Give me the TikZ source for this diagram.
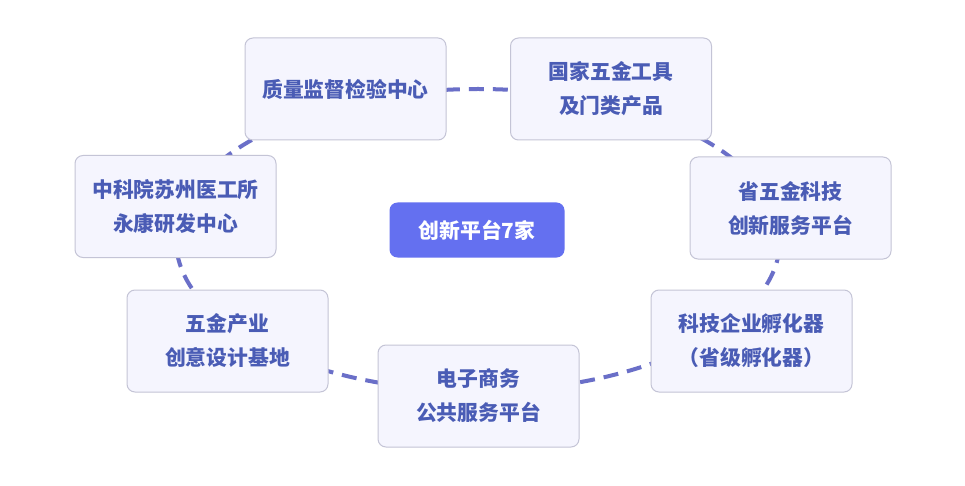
\documentclass[tikz,border=0pt]{standalone}
\usepackage{fontspec}
\setmainfont{Noto Sans CJK SC}
\usetikzlibrary{backgrounds}
\definecolor{ringc}{HTML}{6A6FC8}
\definecolor{boxfill}{HTML}{F5F5FE}
\definecolor{boxline}{HTML}{C4C4D6}
\definecolor{txtc}{HTML}{4A5CB5}
\definecolor{hubc}{HTML}{6470F0}
\tikzset{
  x=1pt, y=1pt,
  unit/.style={draw=boxline, line width=1pt, fill=boxfill, rounded corners=8pt,
    minimum width=201pt, minimum height=102pt, inner sep=0pt, align=center,
    text=txtc, font=\fontsize{20.8}{34}\selectfont\bfseries},
  hub/.style={fill=hubc, rounded corners=8pt, minimum width=175pt, minimum height=55pt,
    inner sep=0pt, text=white, font=\fontsize{20.8}{24}\selectfont\bfseries},
  ring/.style={draw=ringc, line width=4pt, dash pattern=on 15pt off 9pt}
}
\begin{document}
\begin{tikzpicture}
\useasboundingbox (0,0) rectangle (965,-486);
\node[hub] (hub) at (477,-230) {创新平台7家};
\node[unit] (q1) at (345.5,-89) {质量监督检验中心};
\node[unit] (q2) at (611,-89) {国家五金工具\\及门类产品};
\node[unit] (q3) at (790.5,-208) {省五金科技\\创新服务平台};
\node[unit] (q4) at (751.5,-341) {科技企业孵化器\\（省级孵化器）};
\node[unit] (q5) at (478.5,-396) {电子商务\\公共服务平台};
\node[unit] (q6) at (227.5,-341) {五金产业\\创意设计基地};
\node[unit] (q7) at (175.5,-206.5) {中科院苏州医工所\\永康研发中心};
\begin{scope}[on background layer]
  \fill[white] (0,0) rectangle (965,-486);
  \coordinate (rc) at (478,-240);
  \draw[ring] (rc) ellipse [x radius=302, y radius=151];
\end{scope}
\end{tikzpicture}
\end{document}
